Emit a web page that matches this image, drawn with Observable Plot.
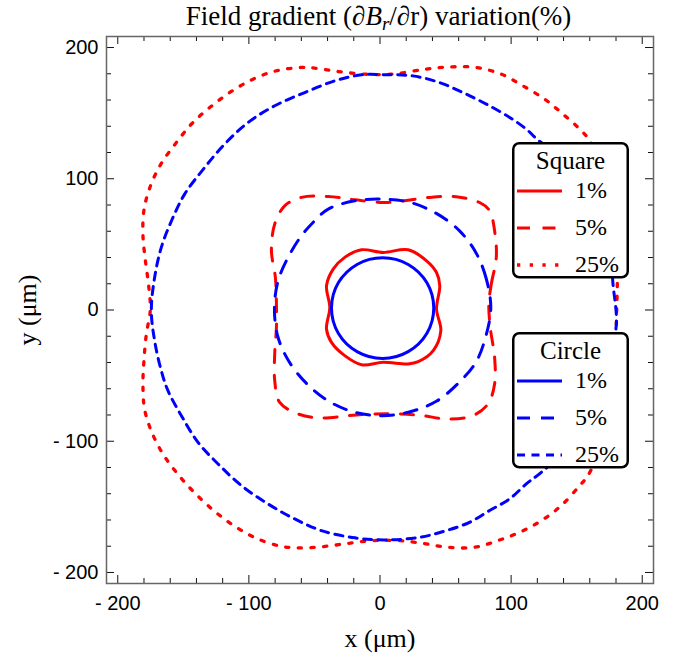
<!DOCTYPE html>
<html>
<head>
<meta charset="utf-8">
<script src="https://cdn.jsdelivr.net/npm/d3@7"></script>
<script src="https://cdn.jsdelivr.net/npm/@observablehq/plot@0.6"></script>
<style>
  html, body { margin: 0; padding: 0; background: #fff; }
</style>
</head>
<body>
<div id="chart"></div>
<script>
// ---- Data (µm) ----
const square1 = [
  [43.1, 0.8], [45.6, 18.5], [43.1, 28.6], [35.5, 37.5], [21.5, 45.9], [2.4, 43.9],
  [-14.1, 45.9], [-26.9, 40.1], [-35.7, 31.2], [-40.8, 18.5], [-38.3, 2], [-40.8, -14.5],
  [-37, -24.7], [-26.9, -34.8], [-14.1, -41.7], [2.4, -39.9], [21.5, -41.1], [29.2, -39.4],
  [40.6, -31], [46.4, -15.8]
];
const square5 = [
  [83, 4.6], [84.9, 19.8], [88.7, 40.1], [87.4, 60.4], [83.6, 75.6], [76, 81.9],
  [58.2, 86.3], [37.8, 85.8], [20, 83.5], [3.7, 81.9], [-19.2, 84], [-39.5, 86.5],
  [-59.9, 85.8], [-72.7, 79.4], [-80.3, 65.5], [-82.8, 45.2], [-79.8, 24.8], [-79, 4.6],
  [-79, -13.3], [-80.3, -33.5], [-80.3, -53.8], [-76.5, -70.4], [-62.4, -79.2], [-44.7, -82.3],
  [-24.3, -80.5], [-4, -79.2], [14.9, -79.2], [32.7, -80.5], [50.5, -83], [70.8, -80.5],
  [82.3, -71.6], [87.4, -56.4], [87.4, -36.1], [84.1, -13.3]
];
const square25 = [
  [180.9, 14.7], [181, 40], [178, 70], [170, 100], [159.9, 128.9], [153.6, 136.6],
  [139.5, 149.3], [125.6, 160.7], [109, 170.8], [92.5, 179.7], [73.4, 184.8], [55.6, 185.3],
  [35.3, 183.6], [8.8, 179.7], [-11.6, 179.7], [-31.9, 181.7], [-49.8, 184.3], [-59.9, 184.8],
  [-79, 182.3], [-96.8, 175.9], [-113.4, 166.5], [-129.2, 154.8], [-143.4, 142.1], [-155.3, 127.6],
  [-166.8, 111.7], [-175, 94.7], [-180, 76.4], [-180.8, 57.3], [-179, 38.1], [-176.5, 19],
  [-175.2, 0], [-178.2, -18.3], [-180, -37.9], [-180.8, -56.9], [-179.5, -75.9], [-173.7, -94],
  [-164.7, -111], [-153.3, -126.2], [-140.6, -140.1], [-126.1, -153.4], [-110.8, -164.8], [-94.3, -174],
  [-75.7, -180], [-62.4, -181.3], [-43.4, -180.3], [-24.3, -177.8], [-5.2, -175.7], [13.6, -175.7],
  [32.7, -177.8], [51.8, -180.8], [72.1, -180.8], [89.9, -175.7], [106.5, -169.4], [123.1, -160.5],
  [138.3, -149], [152.3, -133.8], [158.6, -126.2], [168, -105], [176, -75], [180, -45],
  [180.3, -9.4]
];
const circle1 = [
  [41, 1.5], [35.8, 20.7], [21.5, 34.7], [2, 39.8], [-17.5, 34.7], [-31.8, 20.7],
  [-37, 1.5], [-31.8, -17.7], [-17.5, -31.7], [2, -36.9], [21.5, -31.7], [35.8, -17.7]
];
const circle5 = [
  [84.5, 2], [81, 24], [73.4, 43.3], [60.5, 60.5], [43.3, 73.4], [23, 82],
  [2, 84.5], [-19.2, 83.2], [-39.5, 76.9], [-49.8, 68], [-59.9, 56.6], [-70.1, 40.1],
  [-77.7, 22.3], [-80.5, 2], [-78, -20], [-69.4, -39.3], [-56, -56], [-39.3, -69.4],
  [-19, -78], [2, -80.5], [23, -77.5], [43.3, -69.4], [60, -55.5], [73.4, -39.3], [81, -19]
];
const circle25 = [
  [180.3, -9.4], [177.7, 19.8], [175, 48], [160, 88], [140, 115], [120.5, 129.5],
  [111.6, 137.8], [98.9, 146.7], [81.1, 156.9], [63.2, 165.7], [45.4, 173.3], [25, 178.4],
  [3, 179.3], [-14.1, 179.2], [-34.5, 174.6], [-57.4, 165.7], [-80.3, 155.6], [-100.6, 142.9],
  [-118.5, 126.4], [-133.7, 108.6], [-149, 88.3], [-159, 68], [-166.8, 47.7], [-171.9, 24.8],
  [-174.4, -0.5], [-171.9, -23.4], [-166.8, -46.3], [-161.7, -61.5], [-151.5, -80.5], [-138.8, -100.8],
  [-123.5, -117.3], [-105.7, -133.8], [-85.4, -147.8], [-65, -159.2], [-44.7, -168.1], [-19.2, -173.6],
  [3.7, -175.2], [30.2, -173.2], [50.5, -168.1], [68.3, -161.8], [83.6, -152.8], [98.9, -143.9],
  [111.6, -132.5], [123, -123.7], [148, -100], [167, -65], [176, -35]
];

const majorTicks = [-200, -100, 0, 100, 200];
const minorTicks = [-180, -160, -140, -120, -80, -60, -40, -20, 20, 40, 60, 80, 120, 140, 160, 180];
const legendLabels = ["1%", "5%", "25%"];
const legendTitles = ["Square", "Circle"];

// ---- Styles ----
const RED = "#ff0000", BLUE = "#0000ff";
const SANS = "Arial, 'Liberation Sans', sans-serif";
const SERIF = "'Times New Roman', 'Liberation Serif', serif";
const styles = {
  square: [
    {stroke: RED, strokeWidth: 3, strokeDasharray: null},
    {stroke: RED, strokeWidth: 3, strokeDasharray: "13,12.5"},
    {stroke: RED, strokeWidth: 3.3, strokeDasharray: "3.3,9.4"}
  ],
  circle: [
    {stroke: BLUE, strokeWidth: 3, strokeDasharray: null},
    {stroke: BLUE, strokeWidth: 3, strokeDasharray: "13,11"},
    {stroke: BLUE, strokeWidth: 3, strokeDasharray: "8,6.5"}
  ]
};

const W = 673, H = 657;
const mL = 106, mR = 20, mT = 36, mB = 74;
const FW = W - mL - mR, FH = H - mT - mB;
const MAJ = 8, MIN = 5;
const fmt = d => d < 0 ? "- " + Math.abs(d) : String(d);

function curve(data, st) {
  return Plot.line(data, {x: d => d[0], y: d => d[1], curve: "catmull-rom-closed",
    stroke: st.stroke, strokeWidth: st.strokeWidth, strokeDasharray: st.strokeDasharray});
}

const plot = Plot.plot({
  width: W, height: H,
  marginLeft: mL, marginRight: mR, marginTop: mT, marginBottom: mB,
  x: {domain: [-208.6, 208.6]},
  y: {domain: [-208.4, 208.4]},
  style: {background: "#fff"},
  marks: [
    curve(square25, styles.square[2]),
    curve(circle25, styles.circle[2]),
    curve(square5, styles.square[1]),
    curve(circle5, styles.circle[1]),
    curve(square1, styles.square[0]),
    curve(circle1, styles.circle[0]),
    // inward ticks
    Plot.ruleX(majorTicks, {x: d => d, insetTop: FH - MAJ, stroke: "#111", strokeWidth: 1}),
    Plot.ruleX(minorTicks, {x: d => d, insetTop: FH - MIN, stroke: "#111", strokeWidth: 1}),
    Plot.ruleX(majorTicks, {x: d => d, insetBottom: FH - MAJ, stroke: "#111", strokeWidth: 1}),
    Plot.ruleX(minorTicks, {x: d => d, insetBottom: FH - MIN, stroke: "#111", strokeWidth: 1}),
    Plot.ruleY(majorTicks, {y: d => d, insetRight: FW - MAJ, stroke: "#111", strokeWidth: 1}),
    Plot.ruleY(minorTicks, {y: d => d, insetRight: FW - MIN, stroke: "#111", strokeWidth: 1}),
    Plot.ruleY(majorTicks, {y: d => d, insetLeft: FW - MAJ, stroke: "#111", strokeWidth: 1}),
    Plot.ruleY(minorTicks, {y: d => d, insetLeft: FW - MIN, stroke: "#111", strokeWidth: 1}),
    Plot.frame({stroke: "#666", strokeWidth: 1.5}),
    Plot.axisX(majorTicks, {anchor: "bottom", tickSize: 0, tickPadding: 12, tickFormat: fmt,
      fontSize: 20, fontFamily: SANS, fill: "#000", label: null}),
    Plot.axisY(majorTicks, {anchor: "left", tickSize: 0, tickPadding: 8, tickFormat: fmt,
      fontSize: 20, fontFamily: SANS, fill: "#000", label: null}),
    Plot.text(["x (μm)"], {frameAnchor: "bottom", textAnchor: "middle", lineAnchor: "middle",
      dy: 55, fontSize: 26, fontFamily: SERIF, fill: "#000"}),
    Plot.text(["y (μm)"], {frameAnchor: "left", textAnchor: "middle", lineAnchor: "middle",
      dx: -79, rotate: -90, fontSize: 26, fontFamily: SERIF, fill: "#000"})
  ]
});

const svg = d3.select(plot);
svg.selectAll("g[aria-label='x-axis tick label'], g[aria-label='y-axis tick label']")
  .attr("font-size", 20).attr("font-family", SANS);

// Title
const title = svg.append("text")
  .attr("x", mL + FW / 2 - 1).attr("y", 25)
  .attr("text-anchor", "middle")
  .attr("font-family", SERIF).attr("font-size", 27).attr("fill", "#000");
title.append("tspan").text("Field gradient (∂");
title.append("tspan").attr("font-style", "italic").text("B");
title.append("tspan").attr("font-style", "italic").attr("font-size", 19).attr("dy", 5).text("r");
title.append("tspan").attr("dy", -5).text("/∂r) variation(%)");

// Legends
const legendTops = [142, 332];
const groups = [styles.square, styles.circle];
legendTitles.forEach((t, gi) => {
  const g = svg.append("g").attr("transform", `translate(512,${legendTops[gi]})`);
  g.append("rect").attr("x", 1.25).attr("y", 1.25).attr("width", 114.5).attr("height", 134)
    .attr("rx", 6).attr("fill", "#fff").attr("stroke", "#000").attr("stroke-width", 2.5);
  g.append("text").attr("x", 58.5).attr("y", 27).attr("text-anchor", "middle")
    .attr("font-family", SERIF).attr("font-size", 25).attr("fill", "#000").text(t);
  const lineYs = [49, 86, 123];
  legendLabels.forEach((lab, i) => {
    const st = groups[gi][i];
    g.append("line").attr("x1", 5).attr("x2", 50).attr("y1", lineYs[i]).attr("y2", lineYs[i])
      .attr("stroke", st.stroke).attr("stroke-width", st.strokeWidth)
      .attr("stroke-dasharray", st.strokeDasharray);
    g.append("text").attr("x", 63).attr("y", lineYs[i] + 6.5).attr("text-anchor", "start")
      .attr("font-family", SERIF).attr("font-size", 24).attr("fill", "#000").text(lab);
  });
});

document.getElementById("chart").appendChild(plot);
</script>
</body>
</html>
